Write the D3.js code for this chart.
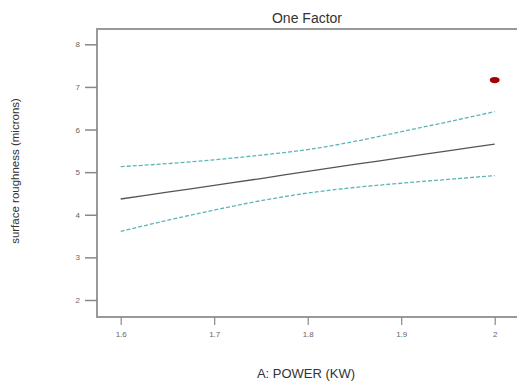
<!DOCTYPE html>
<html><head><meta charset="utf-8">
<script src="https://cdn.jsdelivr.net/npm/d3@7"></script>
<style>body{margin:0;background:#fff;}svg{display:block;font-family:Arial,"Liberation Sans",sans-serif;}</style>
</head><body>
<script>
const powerX = [1.6, 1.65, 1.7, 1.75, 1.8, 1.85, 1.9, 1.95, 2.0];
const fitY   = [4.37, 4.53, 4.69, 4.85, 5.02, 5.18, 5.34, 5.50, 5.66];
const upperY = [5.13, 5.20, 5.29, 5.40, 5.53, 5.72, 5.95, 6.18, 6.42];
const lowerY = [3.61, 3.87, 4.11, 4.33, 4.51, 4.64, 4.74, 4.83, 4.92];
const pointX = [2.0];
const pointY = [7.16];
const xTicks = [1.6, 1.7, 1.8, 1.9, 2];
const yTicks = [2, 3, 4, 5, 6, 7, 8];

(function () {
const W = 517, H = 382;
const svg = d3.select("body").append("svg").attr("width", W).attr("height", H);
const x = d3.scaleLinear().domain([1.6, 2]).range([120.7, 494.7]);
const y = d3.scaleLinear().domain([2, 8]).range([300, 44.3]);
const pl = 97, pt = 29, pb = 317, pr = 520;

svg.append("path").attr("d", `M${pr},${pt}H${pl}V${pb}H${pr}`)
  .attr("fill", "none").attr("stroke", "#999").attr("stroke-width", 2);

const ya = svg.append("g").attr("transform", `translate(${pl},0)`)
  .call(d3.axisLeft(y).tickValues(yTicks).tickSize(12).tickPadding(5).tickFormat(d3.format("d")));
ya.select(".domain").remove();
ya.selectAll("line").attr("stroke", "#888").attr("stroke-width", 1.5);
ya.selectAll("text").attr("fill", "#666").attr("font-size", 8);

const xa = svg.append("g").attr("transform", `translate(0,${pb})`)
  .call(d3.axisBottom(x).tickValues(xTicks).tickSize(8).tickPadding(6).tickFormat(d => d === 2 ? "2" : d3.format(".1f")(d)));
xa.select(".domain").remove();
xa.selectAll("line").attr("stroke", "#888").attr("stroke-width", 1.2);
xa.selectAll("text").attr("fill", "#666").attr("font-size", 8);

const mk = arr => d3.line().x((d, i) => x(powerX[i])).y(d => y(d)).curve(d3.curveMonotoneX)(arr);
[upperY, lowerY].forEach(a => svg.append("path").attr("d", mk(a)).attr("fill", "none")
  .attr("stroke", "#5fb5b5").attr("stroke-width", 1.3).attr("stroke-dasharray", "4,2"));
svg.append("path").attr("d", mk(fitY)).attr("fill", "none").attr("stroke", "#555").attr("stroke-width", 1.3);

svg.selectAll("ellipse.pt").data(pointX).enter().append("ellipse")
  .attr("cx", d => x(d)).attr("cy", (d, i) => y(pointY[i])).attr("rx", 5).attr("ry", 3.2).attr("fill", "#a30000");

svg.append("text").attr("x", 307).attr("y", 23).attr("text-anchor", "middle")
  .attr("font-size", 14).attr("fill", "#333").text("One Factor");
svg.append("text").attr("x", 306).attr("y", 378).attr("text-anchor", "middle")
  .attr("font-size", 13).attr("fill", "#333").text("A: POWER (KW)");
svg.append("text").attr("transform", "translate(19,171) rotate(-90)").attr("text-anchor", "middle")
  .attr("font-size", 11.5).attr("fill", "#333").text("surface roughness (microns)");
})();
</script>
</body></html>
